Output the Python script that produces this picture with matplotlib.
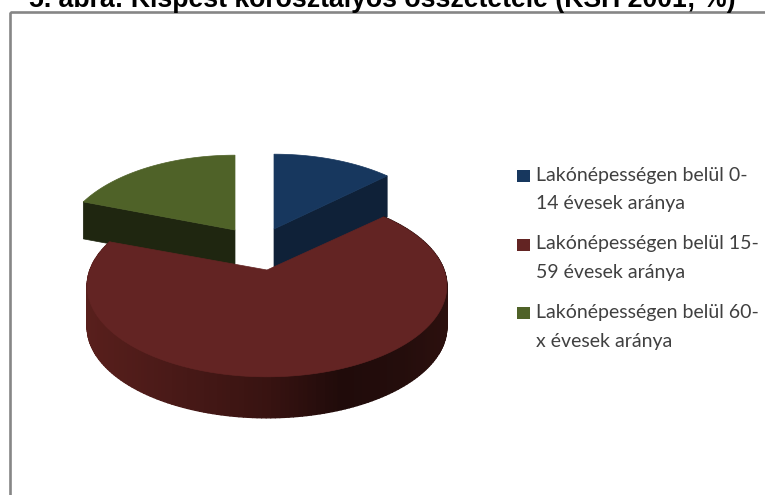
import numpy as np
import matplotlib
matplotlib.use('Agg')
import matplotlib.pyplot as plt
from matplotlib.collections import PolyCollection
from matplotlib.patches import Rectangle

title = '5. ábra: Kispest korosztályos összetétele (KSH 2001; %)'
labels = ['Lakónépességen belül 0-\n14 évesek aránya',
          'Lakónépességen belül 15-\n59 évesek aránya',
          'Lakónépességen belül 60-\nx évesek aránya']
# share of each age group, clockwise from the top of the pie
values = [13.2, 67.3, 19.5]
top_colors = ['#17375e', '#632423', '#4f6228']
side_colors = ['#0f2138', '#2a0f0d', '#1f2610']

W, H = 765, 495
RX, RY, PERSP = 177, 88, 0.176   # ellipse radii and perspective of the tilted disc
DEPTH = 41
# apex of each slice in pixels (the pie is exploded), x scale of the slice
apex = [(274, 229), (267, 270), (235, 230)]
x_scale = [0.97, 1.0, 0.965]

fig = plt.figure(figsize=(W / 100, H / 100), dpi=100)
ax = fig.add_axes([0, 0, 1, 1])
ax.set_xlim(0, W)
ax.set_ylim(H, 0)
ax.axis('off')


def project(theta, center, scale=1.0):
    # theta in radians, clockwise from the back of the pie
    c = np.cos(theta)
    s = np.sin(theta)
    div = 1 + PERSP * c
    return center[0] + scale * RX * s / div, center[1] - RY * c / div


def rim_color(x):
    # shading of the red side wall, bright on the left and dark on the right
    stops = [87, 180, 267, 340, 400, 447]
    reds = [0x58, 0x48, 0x38, 0x20, 0x24, 0x2c]
    greens = [0x1f, 0x19, 0x13, 0x0b, 0x0d, 0x10]
    blues = [0x1c, 0x17, 0x11, 0x0a, 0x0c, 0x0e]
    return (np.interp(x, stops, reds) / 255, np.interp(x, stops, greens) / 255,
            np.interp(x, stops, blues) / 255)


shares = np.array(values) / sum(values) * 2 * np.pi
ends = np.cumsum(shares)
starts = ends - shares

# back slices first, red one goes over them
for i in [0, 2, 1]:
    t = np.linspace(starts[i], ends[i], 200)
    xs, ys = project(t, apex[i], x_scale[i])
    ax_, ay_ = apex[i]
    if i == 1:
        # side wall cut in narrow strips to get the gradient
        polys, cols = [], []
        for j in range(len(t) - 1):
            polys.append([(xs[j], ys[j]), (xs[j + 1], ys[j + 1]),
                          (xs[j + 1], ys[j + 1] + DEPTH), (xs[j], ys[j] + DEPTH)])
            cols.append(rim_color((xs[j] + xs[j + 1]) / 2))
        ax.add_collection(PolyCollection(polys, facecolors=cols, edgecolors=cols, linewidths=1.0))
    else:
        # cut face under the slice edge that looks at the viewer
        edge = -1 if i == 0 else 0
        wall = DEPTH if i == 0 else DEPTH - 4
        ax.fill([ax_, xs[edge], xs[edge], ax_],
                [ay_, ys[edge], ys[edge] + wall, ay_ + wall],
                color=side_colors[i], lw=0.5)
    ax.fill(np.r_[ax_, xs], np.r_[ay_, ys], color=top_colors[i], lw=0.5)

# chart frame, right and bottom sides run off the picture
ax.add_patch(Rectangle((9.8, 12), 800, 520, fill=False, ec='#868686', lw=1.9, clip_on=True))

fig.text(382, H - 7, title, transform=None, ha='center', va='baseline',
         family='Liberation Sans', weight='bold', fontsize=19.2, color='black')

# legend
legend_y = [175.5, 244.5, 313]
for y, lab, col in zip(legend_y, labels, top_colors):
    ax.add_patch(Rectangle((517.5, y - 6), 12.5, 12, fc=col, ec='none'))
    ax.text(536, y - 9, lab, va='top', ha='left', family='Lato', fontsize=14.0,
            color='#404040', linespacing=1.85)

fig.savefig('out.png', dpi=100)
